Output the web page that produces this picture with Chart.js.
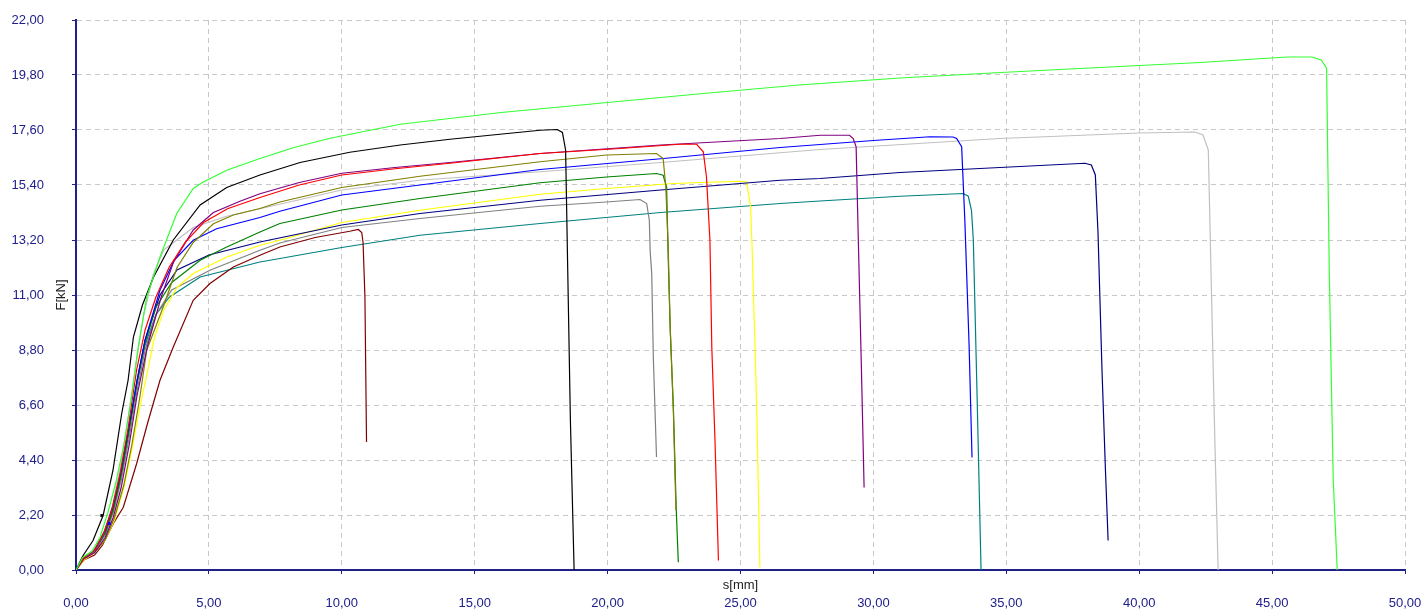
<!DOCTYPE html>
<html>
<head>
<meta charset="utf-8">
<script src="https://cdn.jsdelivr.net/npm/chart.js@4/dist/chart.umd.min.js"></script>
<style>
  html, body { margin: 0; padding: 0; background: #ffffff; }
  #wrap { width: 1423px; height: 610px; position: relative; }
</style>
</head>
<body>
<div id="wrap"><canvas id="c" width="1423" height="610"></canvas></div>
<script>
// Tick labels of both axes
const xTicks = [0, 5, 10, 15, 20, 25, 30, 35, 40, 45, 50];
const yTicks = [0, 2.2, 4.4, 6.6, 8.8, 11, 13.2, 15.4, 17.6, 19.8, 22];

// Displacement s [mm] and force F [kN] of each specimen
const sGreen = [0,0.25,0.6,0.9,1.2,1.5,1.8,2.1,2.34,2.66,3.16,3.79,4.41,4.79,5.67,6.92,8.2,9.56,12.2,16,19.7,23.5,27.2,31,34.8,38.5,42.3,44.5,45.6,46.5,46.85,47.05,47.15,47.3,47.45];
const fGreen = [0,0.5,0.75,1.3,2.3,3.5,5.0,7.0,8.92,10.92,12.52,14.26,15.26,15.52,15.99,16.46,16.9,17.27,17.83,18.3,18.67,19.05,19.4,19.68,19.9,20.1,20.3,20.45,20.52,20.52,20.4,20.07,12,3.6,0];

const sBlack = [0,0.25,0.64,1.02,1.39,1.72,1.96,2.16,2.5,2.91,3.66,4.67,5.67,6.92,8.43,10.3,12.2,14.07,15.95,17.46,18.1,18.3,18.42,18.5,18.6,18.74];
const fBlack = [0,0.55,1.18,2.18,3.98,6.26,7.59,9.32,10.6,11.7,13.2,14.6,15.3,15.8,16.3,16.71,17.0,17.23,17.43,17.59,17.62,17.5,16.8,12,6,0];

const sRed = [0,0.3,0.7,1.05,1.35,1.65,1.95,2.28,2.6,3.0,3.5,4.1,4.8,5.7,6.92,8.4,10,12,14.07,17.46,20.47,22.72,23.35,23.6,23.72,23.85,23.92,24.04,24.17];
const fRed = [0,0.5,0.8,1.5,2.4,3.8,5.6,8.0,9.6,10.9,12.1,13.1,13.9,14.45,14.9,15.4,15.8,16.05,16.27,16.66,16.86,17.03,17.03,16.73,15.72,13.19,8.92,5.18,0.38];

const sPurple = [0,0.3,0.7,1.1,1.4,1.7,2.0,2.3,2.7,3.2,3.66,4.41,5.17,6.17,6.92,8.4,10,12,14.07,17.46,22,26.49,28,29.1,29.24,29.35,29.43,29.55,29.65];
const fPurple = [0,0.45,0.7,1.3,2.1,3.3,5.0,7.0,9.0,10.9,12.3,13.6,14.3,14.75,15.05,15.5,15.87,16.1,16.3,16.66,17.0,17.26,17.39,17.39,17.26,16.93,13.32,8,3.3];

const sOlive = [0,0.3,0.7,1.1,1.45,1.8,2.1,2.4,2.66,3.28,3.8,4.41,5.17,5.92,6.92,7.67,10,12.94,17.46,19.96,21.84,22.09,22.19,22.28,22.35,22.47,22.57];
const fOlive = [0,0.45,0.7,1.2,2.1,3.4,5.0,6.9,8.79,10.52,12.1,13.1,13.85,14.2,14.46,14.72,15.3,15.75,16.33,16.6,16.66,16.46,15.32,12.92,9.87,6.52,2.4];

const sBlue = [0,0.3,0.7,1.1,1.4,1.7,2.0,2.3,2.6,3.16,3.7,4.41,5.29,6.92,7.67,10,12.94,17.46,22,26.49,28,30,32.13,33.0,33.13,33.32,33.44,33.6,33.71];
const fBlue = [0,0.5,0.8,1.6,2.6,4.0,5.8,7.6,9.2,11.2,12.4,13.19,13.65,14.1,14.35,15.0,15.4,16.02,16.45,16.9,17.02,17.18,17.33,17.32,17.26,16.93,13.99,9,4.5];

const sLightGray = [0,0.3,0.7,1.05,1.35,1.65,1.95,2.25,2.55,2.9,3.3,4.41,5.67,6.92,10,13,17.46,22,27.99,34.76,40,42.1,42.4,42.6,42.7,42.85,42.97];
const fLightGray = [0,0.5,0.8,1.5,2.5,4.0,6.0,8.2,10.2,11.8,12.8,13.7,14.15,14.45,15.2,15.6,15.93,16.3,16.82,17.26,17.48,17.52,17.4,16.8,12,5,0];

const sDarkGreen = [0,0.3,0.7,1.1,1.4,1.7,2.0,2.3,2.6,3.0,3.6,4.67,5.67,6.92,7.67,10,12.94,17.46,19.96,21.84,22.09,22.22,22.28,22.36,22.48,22.58,22.66];
const fDarkGreen = [0,0.5,0.8,1.5,2.4,3.8,5.6,7.5,9.1,10.5,11.5,12.39,12.92,13.52,13.86,14.4,14.86,15.49,15.72,15.86,15.79,15.32,12.5,9.5,6.3,2.5,0.31];

const sNavy = [0,0.3,0.7,1.1,1.4,1.7,2.0,2.3,2.6,3.16,3.8,5,6.92,10,12.94,17.46,22,26.49,27.99,31,34.76,37.96,38.2,38.35,38.45,38.6,38.73,38.83];
const fNavy = [0,0.5,0.8,1.5,2.5,3.9,5.7,7.6,9.2,11.0,12.0,12.6,13.12,13.8,14.26,14.79,15.2,15.59,15.66,15.9,16.1,16.27,16.2,15.8,13.5,8,4,1.18];

const sYellow = [0,0.3,0.7,1.1,1.45,1.8,2.1,2.4,2.7,2.95,3.3,3.8,4.41,5.67,6.92,7.67,10,12.94,17.46,19.96,22.47,24.98,25.23,25.38,25.44,25.61,25.73];
const fYellow = [0,0.4,0.7,1.2,2.0,3.3,4.8,6.5,8.0,9.3,10.4,11.3,11.86,12.52,12.99,13.19,13.9,14.39,15.03,15.26,15.46,15.55,15.52,14.52,12.79,6.52,0.11];

const sGray = [0,0.3,0.7,1.1,1.4,1.7,2.0,2.3,2.6,3.0,3.6,5.04,6.92,7.67,10,12.94,17.46,19.96,21.22,21.47,21.57,21.6,21.66,21.72,21.84];
const fGray = [0,0.45,0.75,1.4,2.3,3.6,5.3,7.2,8.8,10.2,11.2,11.99,12.79,13.08,13.7,14.06,14.55,14.72,14.82,14.66,13.99,12.79,11.86,8.52,4.52];

const sBrown = [0,0.3,0.7,1.0,1.4,1.78,2.28,2.7,3.16,3.66,4.41,5.04,5.92,6.92,7.67,9,10.3,10.62,10.75,10.8,10.87,10.91,10.93];
const fBrown = [0,0.4,0.6,1.0,1.85,2.51,4.25,5.9,7.59,8.92,10.79,11.46,12.12,12.59,12.92,13.3,13.55,13.62,13.5,13.1,10.92,7.05,5.12];

const sTeal = [0,0.3,0.7,1.1,1.4,1.7,2.0,2.3,2.6,3.0,3.5,3.91,4.67,6.92,7.67,10,12.94,17.46,22,26.49,27.99,31,33.38,33.57,33.69,33.76,33.9,34.05];
const fTeal = [0,0.5,0.8,1.5,2.4,3.8,5.6,7.5,9.0,10.2,10.9,11.19,11.72,12.32,12.46,12.9,13.39,13.86,14.3,14.66,14.76,14.95,15.06,14.95,14.39,13.19,7,0];

// Evaluation markers on the rising branch
const sMark = [0.97, 1.25];
const fMark = [2.18, 1.86];
const markColors = ['#000000', '#0000ff'];

const curves = [
  [sGreen, fGreen, '#33ff33'],
  [sBlack, fBlack, '#000000'],
  [sRed, fRed, '#ff0000'],
  [sPurple, fPurple, '#800080'],
  [sOlive, fOlive, '#808000'],
  [sBlue, fBlue, '#0000ff'],
  [sLightGray, fLightGray, '#c0c0c0'],
  [sDarkGreen, fDarkGreen, '#008000'],
  [sNavy, fNavy, '#000080'],
  [sYellow, fYellow, '#ffff00'],
  [sGray, fGray, '#808080'],
  [sBrown, fBrown, '#800000'],
  [sTeal, fTeal, '#008080']
];

const datasets = curves.map(([s, f, col]) => ({
  data: s.map((v, i) => ({ x: v, y: f[i] })),
  borderColor: col,
  borderWidth: 1.2,
  pointRadius: 0,
  showLine: true,
  fill: false,
  tension: 0
}));

datasets.unshift({
  data: sMark.map((v, i) => ({ x: v, y: fMark[i] })),
  showLine: false,
  pointStyle: 'rect',
  pointRadius: 2,
  pointBorderWidth: 0,
  pointBackgroundColor: markColors,
  pointBorderColor: markColors
});

const AXIS = '#20208c';
const GRID = '#c8c8c8';
const fmt = v => Number(v).toFixed(2).replace('.', ',');

// Axis captions sit between the axis line and its tick labels
const captions = {
  id: 'captions',
  afterDraw(chart) {
    const { ctx, chartArea, scales } = chart;
    ctx.save();
    ctx.fillStyle = '#222222';
    ctx.font = "13px 'Liberation Sans', Arial, sans-serif";
    ctx.textAlign = 'center';
    ctx.textBaseline = 'middle';
    ctx.fillText('s[mm]', scales.x.getPixelForValue(25), chartArea.bottom + 15);
    ctx.translate(61, (chartArea.top + chartArea.bottom) / 2);
    ctx.rotate(-Math.PI / 2);
    ctx.fillText('F[kN]', 0, 0);
    ctx.restore();
  }
};

// Fixed axis sizes; edge labels do not push the plot area inwards
function fixX(scale) {
  scale.height = 40;
  scale.paddingLeft = 0; scale.paddingRight = 0;
  scale.paddingTop = 0; scale.paddingBottom = 0;
}
function fixY(scale) {
  scale.width = 76;
  scale.paddingLeft = 0; scale.paddingRight = 0;
  scale.paddingTop = 0; scale.paddingBottom = 0;
}

new Chart(document.getElementById('c'), {
  type: 'scatter',
  data: { datasets },
  options: {
    responsive: false,
    animation: false,
    events: [],
    layout: { padding: { top: 20, right: 18, bottom: 0, left: 0 } },
    plugins: { legend: { display: false }, tooltip: { enabled: false } },
    scales: {
      x: {
        type: 'linear',
        min: 0, max: 50,
        afterFit: fixX,
        afterBuildTicks(scale) { scale.ticks = xTicks.map(v => ({ value: v })); },
        grid: {
          color: GRID, lineWidth: 1,
          tickColor: AXIS, tickLength: 4, tickBorderDash: []
        },
        border: { color: AXIS, width: 2, dash: [5, 4] },
        ticks: {
          color: AXIS, padding: 22, maxRotation: 0, autoSkip: false,
          font: { family: "'Liberation Sans', Arial, sans-serif", size: 13 },
          callback: v => fmt(v)
        }
      },
      y: {
        type: 'linear',
        min: 0, max: 22,
        afterFit: fixY,
        afterBuildTicks(scale) { scale.ticks = yTicks.map(v => ({ value: v })); },
        grid: {
          color: GRID, lineWidth: 1,
          tickColor: AXIS, tickLength: 4, tickBorderDash: []
        },
        border: { color: AXIS, width: 2, dash: [5, 4] },
        ticks: {
          color: AXIS, padding: 28, autoSkip: false,
          font: { family: "'Liberation Sans', Arial, sans-serif", size: 13 },
          callback: v => fmt(v)
        }
      }
    }
  },
  plugins: [captions]
});
</script>
</body>
</html>
